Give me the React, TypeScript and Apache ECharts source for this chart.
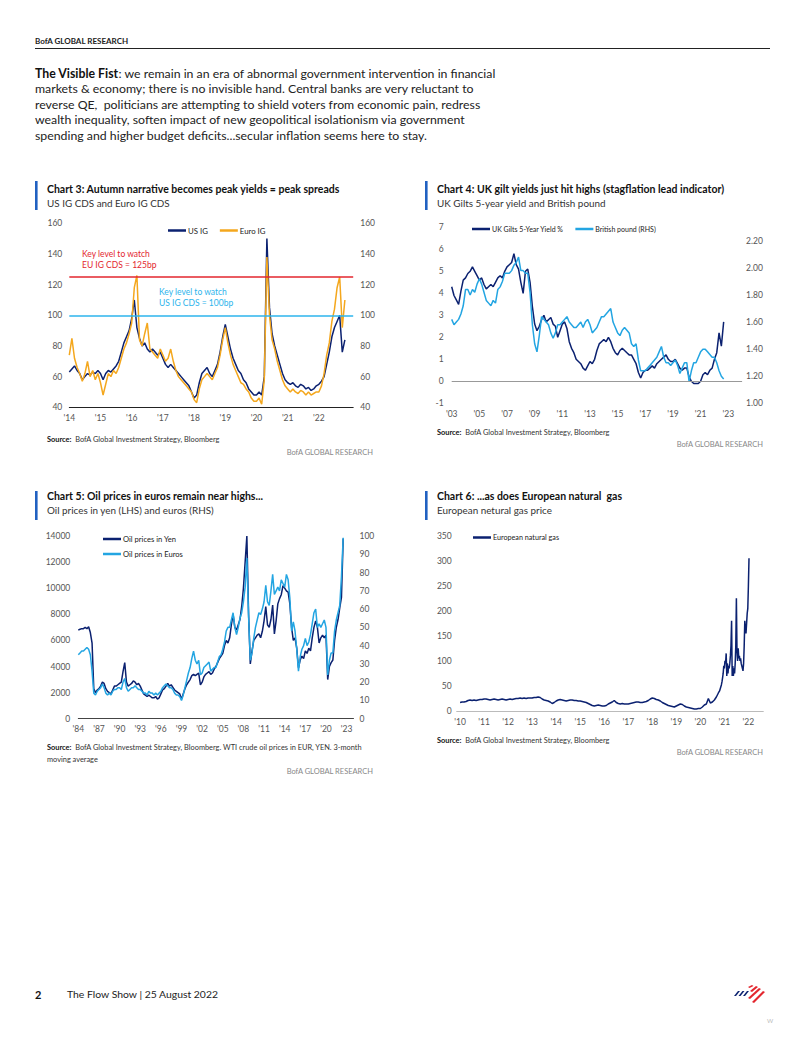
import React, { useEffect, useRef } from 'react';
import * as echarts from 'echarts';

// ---------------- DATA ----------------
// Chart 3: monthly (visual time), 2014.0 onward
const c3Start = 2014;
const usIG = [
  63, 65, 67, 64, 62, 58, 60, 62, 61, 63, 62, 64,
  62, 58, 62, 64, 63, 65, 67, 70, 76, 82, 86, 90,
  98, 110, 92, 85, 80, 82, 78, 76, 78, 76, 74, 76,
  72, 68, 66, 68, 66, 64, 62, 60, 58, 56, 54, 50,
  46, 48, 56, 62, 64, 66, 62, 60, 64, 68, 76, 86,
  94, 86, 78, 72, 68, 64, 62, 58, 56, 52, 50, 48,
  48, 50, 48, 60, 150, 105, 88, 80, 74, 68, 62, 58,
  56, 55, 56, 54, 53, 55, 54, 52, 53, 51, 52, 54,
  55, 57, 60, 68, 76, 86, 92, 96, 100, 76, 84,
];
const euroIG = [
  74, 85, 72, 66, 62, 57, 62, 70, 60, 64, 58, 62,
  56, 48, 55, 62, 60, 64, 62, 66, 72, 78, 82, 88,
  95, 118, 126, 84, 80, 88, 95, 78, 76, 74, 72, 78,
  74, 70, 72, 78, 70, 64, 60, 58, 56, 54, 52, 50,
  45, 43, 52, 58, 60, 62, 60, 58, 62, 66, 74, 84,
  92, 82, 74, 68, 64, 60, 56, 55, 52, 50, 46, 44,
  44, 46, 42, 58, 138, 100, 84, 78, 70, 64, 58, 54,
  52, 50, 52, 50, 49, 51, 50, 48, 50, 48, 49, 50,
  50, 54, 62, 74, 82, 96, 104, 118, 125, 92, 110,
];
const c3Ticks = [2014, 2015, 2016, 2017, 2018, 2019, 2020, 2021, 2022];
const euLevel = 125;
const usLevel = 100;

// Chart 4: bimonthly, 2003.0 onward
const c4Start = 2003;
const ukGilt5y = [
  4.3, 3.9, 3.7, 3.5, 4.1, 4.6,
  4.7, 4.9, 5.0, 5.2, 5.0, 4.8,
  4.6, 4.7, 4.4, 4.2, 4.3, 4.4,
  4.3, 4.5, 4.7, 4.8, 4.7, 5.0,
  5.2, 5.3, 5.4, 5.8, 5.3, 5.1,
  4.5, 4.0, 5.0, 5.1, 4.5, 3.4,
  2.6, 2.3, 2.5, 2.8, 3.0, 2.7,
  2.8, 2.9, 2.6, 2.5, 2.0, 2.3,
  2.6, 2.7, 2.4, 1.8, 1.5, 1.3,
  1.0, 0.9, 0.8, 0.6, 0.5, 0.7,
  0.9, 0.8, 1.0, 1.4, 1.7, 1.8,
  1.9, 1.8, 2.0, 1.8, 1.5, 1.3,
  1.2, 1.4, 1.5, 1.4, 1.3, 1.2,
  1.2, 1.0, 0.8, 0.4, 0.15, 0.4,
  0.5, 0.5, 0.6, 0.7, 0.6, 0.8,
  0.9, 1.0, 1.1, 1.2, 1.0, 0.9,
  0.9, 1.0, 0.8, 0.6, 0.5, 0.6,
  0.6, 0.2, 0.0, -0.1, -0.1, -0.1,
  0.0, 0.3, 0.4, 0.3, 0.5, 0.6,
  1.0, 1.3, 2.2, 1.6, 2.7,
];
const gbpUsd = [
  1.62, 1.58, 1.60, 1.62, 1.66, 1.72,
  1.84, 1.84, 1.80, 1.84, 1.82, 1.88,
  1.92, 1.88, 1.82, 1.76, 1.74, 1.72,
  1.76, 1.74, 1.84, 1.86, 1.90, 1.96,
  1.96, 1.96, 1.98, 2.02, 2.04, 2.08,
  1.98, 1.98, 1.96, 1.96, 1.82, 1.58,
  1.44, 1.38, 1.50, 1.64, 1.62, 1.60,
  1.58, 1.52, 1.48, 1.52, 1.58, 1.58,
  1.60, 1.62, 1.64, 1.60, 1.58, 1.56,
  1.56, 1.58, 1.60, 1.56, 1.60, 1.62,
  1.58, 1.52, 1.54, 1.56, 1.60, 1.64,
  1.64, 1.66, 1.68, 1.70, 1.60, 1.56,
  1.52, 1.50, 1.54, 1.56, 1.54, 1.52,
  1.44, 1.42, 1.44, 1.32, 1.24, 1.24,
  1.24, 1.26, 1.28, 1.30, 1.32, 1.34,
  1.38, 1.42, 1.34, 1.30, 1.30, 1.28,
  1.30, 1.32, 1.28, 1.22, 1.26, 1.30,
  1.30, 1.16, 1.24, 1.30, 1.30, 1.34,
  1.38, 1.40, 1.40, 1.38, 1.36, 1.34,
  1.34, 1.30, 1.24, 1.20, 1.18,
];
const c4Ticks = [2003, 2005, 2007, 2009, 2011, 2013, 2015, 2017, 2019, 2021, 2023];

// Chart 5: quarterly, 1984.0 onward
const c5Start = 1984;
const oilYen = [
  6800, 6850, 6900, 6900, 7000, 6900, 7050, 6600,
  5800, 2300, 2000, 2200, 2300, 2500, 2800, 2700,
  2300, 2100, 2000, 1900, 2200, 2500, 2500, 2600,
  2700, 2800, 3600, 4300, 2800, 2500, 2600, 2700,
  2900, 2800, 2600, 2700, 2500, 2200, 1900, 1800,
  1700, 1800, 1700, 1600, 1600, 1700, 1500, 1600,
  1900, 2200, 2300, 2500, 2700, 2500, 2600, 2400,
  2200, 2100, 2000, 1900, 1500, 1900, 2300, 2600,
  2800, 3000, 3300, 3400, 3300, 3400, 3500, 2600,
  2800, 3200, 3400, 3500, 3600, 3400, 3500, 3800,
  4000, 4300, 4600, 4800, 5000, 5600, 6000, 5800,
  6200, 7200, 8000, 7000, 6800, 7200, 7600, 8600,
  10000, 12000, 14000, 8000, 4200, 5200, 6000, 6200,
  6400, 6500, 6200, 6700, 7500, 8600, 7200, 7000,
  7600, 8700, 6500, 7500, 8800, 9200, 9500, 10200,
  10000, 9800, 9700, 8800, 7000, 6000, 6200, 5400,
  3900, 4500, 4800, 4600, 5200, 5000, 5400, 5200,
  6200, 7000, 7500, 7000, 5800, 6200, 6400, 6200,
  6400, 3000, 4000, 4300, 4500, 6000, 7000, 7600,
  8500, 9300, 13800,
];
const oilEur = [
  35, 36, 37, 37, 38, 39, 38, 35,
  26, 14, 13, 15, 16, 17, 19, 17,
  14, 13, 14, 13, 15, 16, 16, 17,
  17, 16, 20, 22, 17, 15, 16, 17,
  17, 18, 17, 16, 16, 15, 14, 14,
  13, 15, 14, 14, 13, 14, 13, 14,
  15, 17, 18, 19, 18, 17, 17, 16,
  14, 13, 13, 12, 10, 13, 17, 21,
  25, 28, 33, 37, 32, 30, 32, 24,
  25, 28, 29, 30, 31, 26, 27, 28,
  28, 31, 34, 35, 38, 42, 48, 50,
  50, 54, 58, 50, 46, 50, 55, 58,
  64, 72, 88, 56, 32, 36, 44, 50,
  54, 58, 57, 60, 64, 73, 64, 62,
  70, 79, 68, 70, 72, 70, 76, 74,
  72, 79, 76, 66, 48, 53, 48, 38,
  26, 34, 38, 40, 44, 40, 42, 46,
  52, 58, 60, 50, 52, 50, 52, 54,
  50, 24, 32, 36, 36, 48, 54, 58,
  62, 78, 99,
];
const c5Ticks = [1984, 1987, 1990, 1993, 1996, 1999, 2002, 2005, 2008, 2011, 2014, 2017, 2020, 2023];

// Chart 6: monthly 2010.0 - 2020.75, then ~9-day steps from 2020.8
const c6StartA = 2010;
const gasMonthly = [
  17, 18, 18, 19, 21, 22, 21, 22, 21, 22, 23, 23,
  24, 24, 23, 22, 23, 24, 23, 22, 23, 24, 23, 22,
  23, 24, 23, 24, 25, 25, 26, 25, 26, 25, 26, 26,
  26, 27, 27, 28, 27, 24, 22, 21, 20, 18, 15, 17,
  20, 22, 23, 22, 21, 20, 21, 22, 22, 21, 21, 20,
  20, 19, 18, 17, 15, 13, 11, 10, 11, 12, 11, 10,
  10, 11, 14, 16, 18, 21, 17, 15, 14, 15, 14, 14,
  14, 15, 16, 17, 18, 18, 17, 17, 18, 19, 21, 24,
  26, 25, 23, 22, 20, 17, 15, 13, 11, 10, 9, 8,
  10, 12, 14, 13, 10, 8, 7, 6, 5, 4, 4, 5,
  5, 8, 12, 14, 25, 16, 18, 22, 28, 36,
];
const c6StartB = 2020.8;
const gasRecent = [
  40, 44, 48, 52, 58, 66, 75, 90, 85, 100,
  95, 115, 70, 95, 75, 90, 85, 95, 110, 130,
  180, 70, 90, 70, 85, 75, 95, 130, 225, 120,
  100, 125, 105, 110, 100, 105, 95, 90, 85, 80,
  95, 130, 180, 160, 155, 175, 195, 205, 250, 305,
];
const c6Ticks = [2010, 2011, 2012, 2013, 2014, 2015, 2016, 2017, 2018, 2019, 2020, 2021, 2022];

// ---------------- STYLE ----------------
const FONT = 'Lato';
const NAVY = '#0B2170';
const ORANGE = '#F4A71D';
const LBLUE = '#23A5E2';
const RED = '#E3262E';
const LINEBLUE = '#2DB4EC';
const GREY = '#555';
const BAR = '#2161C1';

const toPairs = (start: number, step: number, vals: number[]) => vals.map((v, i) => [start + i * step, v]);
const yr = (v: number) => "'" + String(Math.round(v)).slice(2);

const txt = (text: string, x: number, y: number, o: any = {}) => ({
  type: 'text', x, y, silent: true,
  style: {
    text, fill: o.fill || '#222', fontSize: o.size || 10, fontFamily: FONT,
    fontWeight: o.weight || 'normal', align: o.align || 'left', verticalAlign: 'middle',
    rich: o.rich,
  },
});

const SRC = 7.4;
const srcRich = {
  b: { fontWeight: 'bold', fontSize: SRC, fontFamily: FONT, fill: '#111' },
  r: { fontSize: SRC, fontFamily: FONT, fill: '#333' },
};

const header = (x: number, barTop: number, titleY: number, title: string, sub: string) => [
  { type: 'rect', silent: true, shape: { x: x - 12, y: barTop, width: 2.6, height: 29 }, style: { fill: BAR } },
  txt(title, x, titleY, { size: 10.5, weight: 'bold', fill: '#111' }),
  txt(sub, x, titleY + 14, { size: 9.9, fill: '#333' }),
];

const xAxisBase = (gridIndex: number, min: number, max: number, ticks: number[], lineColor: string, showLine = true) => ({
  type: 'value', gridIndex, min, max,
  splitLine: { show: false },
  axisTick: { show: false },
  axisLine: { show: showLine, onZero: false, lineStyle: { color: lineColor, width: 1 } },
  axisLabel: { customValues: ticks, formatter: yr, color: GREY, fontSize: 8.5, fontFamily: FONT, margin: 6 },
});

const yAxisBase = (gridIndex: number, min: number, max: number, interval: number, position: string, margin: number, formatter?: any) => ({
  type: 'value', gridIndex, min, max, interval, position,
  splitLine: { show: false },
  axisTick: { show: false },
  axisLine: { show: false },
  axisLabel: { color: GREY, fontSize: 8.5, fontFamily: FONT, margin, formatter: formatter || ((v: number) => String(v)) },
});

const lineSeries = (name: string, data: any[], color: string, xi: number, yi: number, extra: any = {}) => ({
  type: 'line', name, data, xAxisIndex: xi, yAxisIndex: yi,
  showSymbol: false, symbol: 'none', lineStyle: { color, width: 1.5 }, itemStyle: { color },
  ...extra,
});

const legendBase = (data: string[], left: number, top: number, orient = 'horizontal', itemGap = 12, size = 7.5) => ({
  data, left, top, orient, itemGap, icon: 'rect', itemWidth: 18, itemHeight: 2.5,
  textStyle: { fontSize: size, fontFamily: FONT, color: '#222', padding: [0, 0, 0, -3] },
  padding: 0,
});

export default function App() {
  const ref = useRef<HTMLDivElement>(null);
  useEffect(() => {
    if (!ref.current) return;
    const chart = echarts.init(ref.current, undefined, { renderer: 'svg' });

    const P = 12.3;
    const graphic: any[] = [
      txt('BofA GLOBAL RESEARCH', 35, 41, { size: 8, weight: 'bold', fill: '#222' }),
      { type: 'line', silent: true, shape: { x1: 35, y1: 48.5, x2: 770, y2: 48.5 }, style: { stroke: '#222', lineWidth: 1 } },
      txt('{b|The Visible Fist}: we remain in an era of abnormal government intervention in financial', 35, 73, {
        size: P, fill: '#222',
        rich: { b: { fontWeight: 'bold', fontSize: P, fontFamily: FONT, fill: '#111' } },
      }),
      txt('markets & economy; there is no invisible hand. Central banks are very reluctant to', 35, 88.5, { size: P }),
      txt('reverse QE,  politicians are attempting to shield voters from economic pain, redress', 35, 104, { size: P }),
      txt('wealth inequality, soften impact of new geopolitical isolationism via government', 35, 119.5, { size: P }),
      txt('spending and higher budget deficits...secular inflation seems here to stay.', 35, 135, { size: P }),

      ...header(47, 181, 189, 'Chart 3: Autumn narrative becomes peak yields = peak spreads', 'US IG CDS and Euro IG CDS'),
      ...header(437, 181, 189, 'Chart 4: UK gilt yields just hit highs (stagflation lead indicator)', 'UK Gilts 5-year yield and British pound'),
      ...header(47, 491, 496, 'Chart 5: Oil prices in euros remain near highs...', 'Oil prices in yen (LHS) and euros (RHS)'),
      ...header(437, 491, 496, 'Chart 6: ...as does European natural  gas', 'European netural gas price'),

      txt('Key level to watch', 82, 254, { size: 8.5, fill: RED }),
      txt('EU IG CDS = 125bp', 82, 265, { size: 8.5, fill: RED }),
      txt('Key level to watch', 159, 292, { size: 8.5, fill: LINEBLUE }),
      txt('US IG CDS = 100bp', 159, 303, { size: 8.5, fill: LINEBLUE }),

      txt('{b|Source:}{r|  BofA Global Investment Strategy, Bloomberg}', 47, 439, { size: SRC, rich: srcRich }),
      txt('BofA GLOBAL RESEARCH', 373, 452, { size: 7.5, fill: '#888', align: 'right' }),
      txt('{b|Source:}{r|  BofA Global Investment Strategy, Bloomberg}', 437, 432, { size: SRC, rich: srcRich }),
      txt('BofA GLOBAL RESEARCH', 763, 444, { size: 7.5, fill: '#888', align: 'right' }),
      txt('{b|Source:}{r|  BofA Global Investment Strategy, Bloomberg. WTI crude oil prices in EUR, YEN. 3-month}', 47, 747, { size: SRC, rich: srcRich }),
      txt('moving average', 47, 759, { size: SRC, fill: '#333' }),
      txt('BofA GLOBAL RESEARCH', 373, 771, { size: 7.5, fill: '#888', align: 'right' }),
      txt('{b|Source:}{r|  BofA Global Investment Strategy, Bloomberg}', 437, 740, { size: SRC, rich: srcRich }),
      txt('BofA GLOBAL RESEARCH', 763, 752, { size: 7.5, fill: '#888', align: 'right' }),

      txt('2', 35, 994, { size: 11, weight: 'bold', fill: '#111' }),
      txt('The Flow Show | 25 August 2022', 67, 994, { size: 10.4, fill: '#222' }),
      txt('W', 767, 1020, { size: 6, fill: '#bbb' }),
      // logo
      { type: 'polygon', silent: true, shape: { points: [[734, 996], [738, 991], [740, 991], [736, 996]] }, style: { fill: NAVY } },
      { type: 'polygon', silent: true, shape: { points: [[738.5, 996], [742.5, 991], [744.5, 991], [740.5, 996]] }, style: { fill: NAVY } },
      { type: 'polygon', silent: true, shape: { points: [[743, 996], [747, 991], [749, 991], [745, 996]] }, style: { fill: NAVY } },
      { type: 'polygon', silent: true, shape: { points: [[748, 987], [752, 985], [753.5, 986], [749.5, 988]] }, style: { fill: RED } },
      { type: 'polygon', silent: true, shape: { points: [[750, 991], [756, 986], [758, 987], [752, 992]] }, style: { fill: RED } },
      { type: 'polygon', silent: true, shape: { points: [[748, 998], [759, 988], [761, 989], [750, 999]] }, style: { fill: RED } },
      { type: 'polygon', silent: true, shape: { points: [[752, 1002], [763, 991], [765, 992], [754, 1003]] }, style: { fill: RED } },
    ];

    const option: any = {
      animation: false,
      backgroundColor: '#fff',
      textStyle: { fontFamily: FONT },
      grid: [
        { left: 69.3, top: 223.3, width: 283.9, height: 184 },
        { left: 451.7, top: 227.3, width: 290.4, height: 176 },
        { left: 78.3, top: 536, width: 275.2, height: 182.7 },
        { left: 456.7, top: 535.7, width: 306.6, height: 175.3 },
      ],
      xAxis: [
        xAxisBase(0, 2014, 2023.1, c3Ticks, '#222'),
        xAxisBase(1, 2003, 2024, c4Ticks, '#999', false),
        xAxisBase(2, 1984, 2024, c5Ticks, '#444'),
        xAxisBase(3, 2009.86, 2022.62, c6Ticks, '#bbb'),
      ],
      yAxis: [
        yAxisBase(0, 40, 160, 20, 'left', 7),
        yAxisBase(0, 40, 160, 20, 'right', 7),
        yAxisBase(1, -1, 7, 1, 'left', 8),
        yAxisBase(1, 1, 2.3, 0.2, 'right', 4, (v: number) => (v > 2.25 ? '' : v.toFixed(2))),
        yAxisBase(2, 0, 14000, 2000, 'left', 8),
        yAxisBase(2, 0, 100, 10, 'right', 6),
        yAxisBase(3, 0, 350, 50, 'left', 5),
      ],
      legend: [
        legendBase(['US IG', 'Euro IG'], 168, 226.5, 'horizontal', 12, 7.8),
        legendBase(['UK Gilts 5-Year Yield %', 'British pound (RHS)'], 472, 225.5, 'horizontal', 12, 7),
        legendBase(['Oil prices in Yen', 'Oil prices in Euros'], 103, 535, 'vertical', 7, 7.6),
        legendBase(['European natural gas'], 473, 534, 'horizontal', 12, 7.2),
      ],
      series: [
        lineSeries('US IG', toPairs(c3Start, 1 / 12, usIG), NAVY, 0, 0, {
          markLine: {
            silent: true, symbol: 'none', label: { show: false },
            data: [
              { yAxis: euLevel, lineStyle: { color: RED, width: 1.6, type: 'solid' } },
              { yAxis: usLevel, lineStyle: { color: LINEBLUE, width: 1.6, type: 'solid' } },
            ],
          },
        }),
        lineSeries('Euro IG', toPairs(c3Start, 1 / 12, euroIG), ORANGE, 0, 0),
        lineSeries('UK Gilts 5-Year Yield %', toPairs(c4Start, 1 / 6, ukGilt5y), NAVY, 1, 2, {
          markLine: {
            silent: true, symbol: 'none', label: { show: false },
            data: [{ yAxis: 0, lineStyle: { color: '#999', width: 1, type: 'solid' } }],
          },
        }),
        lineSeries('British pound (RHS)', toPairs(c4Start, 1 / 6, gbpUsd), LBLUE, 1, 3),
        lineSeries('Oil prices in Yen', toPairs(c5Start, 0.25, oilYen), NAVY, 2, 4),
        lineSeries('Oil prices in Euros', toPairs(c5Start, 0.25, oilEur), LBLUE, 2, 5),
        lineSeries('European natural gas',
          [...toPairs(c6StartA, 1 / 12, gasMonthly), ...toPairs(c6StartB, 0.025, gasRecent)], NAVY, 3, 6),
      ],
      graphic,
    };
    chart.setOption(option);
    return () => chart.dispose();
  }, []);
  return <div ref={ref} style={{ position: 'absolute', left: 0, top: 0, width: 802, height: 1037, background: '#fff' }} />;
}
